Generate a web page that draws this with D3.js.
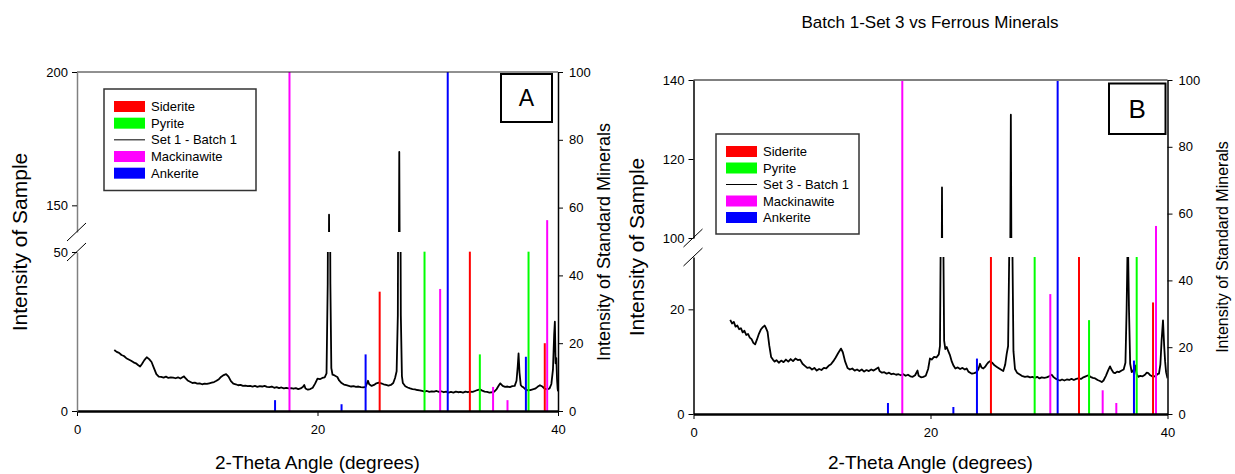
<!DOCTYPE html>
<html>
<head>
<meta charset="utf-8">
<script src="https://cdn.jsdelivr.net/npm/d3@7"></script>
<style>
  body { margin: 0; background: #fff; }
  text { font-family: "Liberation Sans", Arial, sans-serif; fill: #000; }
</style>
</head>
<body>
<div id="chart"></div>
<script>
// x axis (2-theta) ticks
var xTicks = [0, 20, 40];
var rightTicks = [0, 20, 40, 60, 80, 100];

// sample trace, panel A (Set 1 - Batch 1): [2-theta, intensity]
var sampleA = [
  [3.1,19.2],[3.3,18.6],[3.5,18.3],[3.7,17.6],[3.9,17.3],[4.1,16.6],[4.3,16.2],[4.5,15.8],[4.7,15.3],[4.9,15.0],
  [5.1,14.4],[5.25,14.0],[5.4,14.8],[5.6,16.0],[5.8,16.9],[6.0,16.3],[6.2,15.4],[6.4,13.5],[6.6,11.6],[6.8,10.8],
  [7.0,10.7],[7.2,10.5],[7.4,10.8],[7.6,10.4],[7.8,10.6],[8.0,10.5],[8.2,10.3],[8.4,10.6],[8.6,10.2],[8.8,10.7],
  [8.9,10.9],[9.0,10.4],[9.2,9.6],[9.4,9.2],[9.6,8.8],[9.8,8.9],[10.0,8.6],[10.2,8.7],[10.4,8.4],[10.6,8.6],
  [10.8,8.5],[11.0,8.7],[11.2,8.9],[11.4,9.1],[11.6,9.5],[11.8,10.0],[12.0,10.8],[12.2,11.3],[12.4,11.6],[12.6,10.8],
  [12.8,9.4],[13.0,8.6],[13.2,8.4],[13.4,8.1],[13.6,8.2],[13.8,7.9],[14.0,8.0],[14.2,7.8],[14.4,7.9],[14.6,7.7],
  [14.8,7.9],[15.0,7.6],[15.2,7.8],[15.4,7.7],[15.6,7.9],[15.8,7.6],[16.0,7.5],[16.2,7.7],[16.4,7.3],[16.6,7.5],
  [16.8,7.2],[17.0,7.4],[17.2,7.1],[17.4,7.3],[17.6,7.1],[17.8,7.2],[18.0,7.0],[18.2,7.2],[18.4,6.9],[18.6,7.1],
  [18.8,7.6],[18.9,8.2],[19.0,7.1],[19.2,6.7],[19.4,6.9],[19.6,7.3],[19.8,8.6],[20.0,10.2],[20.2,10.0],[20.4,10.4],
  [20.6,10.6],[20.75,11.8],[20.85,40],[20.96,146.5],[21.07,40],[21.15,13.5],[21.25,11.4],[21.36,11.3],[21.5,11.0],
  [21.65,10.7],[21.8,9.6],[22.0,8.8],[22.2,8.3],[22.4,8.1],[22.6,7.9],[22.8,7.7],[23.0,7.8],[23.2,7.6],[23.4,7.7],
  [23.6,7.5],[23.8,7.4],[24.0,7.6],[24.1,8.6],[24.2,9.5],[24.3,8.4],[24.5,7.9],[24.7,8.2],[24.9,8.7],[25.1,8.9],
  [25.3,8.7],[25.5,8.4],[25.7,8.2],[25.9,8.0],[26.1,8.2],[26.3,8.8],[26.45,10.4],[26.58,12.5],[26.68,30],[26.8,170],
  [26.93,30],[27.02,11],[27.1,8.8],[27.3,7.8],[27.5,7.4],[27.7,7.1],[27.9,6.9],[28.1,6.8],[28.3,6.6],[28.5,6.5],
  [28.7,6.3],[28.9,6.1],[29.1,6.3],[29.3,6.0],[29.5,6.2],[29.7,6.1],[29.9,6.3],[30.1,6.0],[30.3,6.2],[30.5,5.9],
  [30.7,6.1],[30.9,5.8],[31.1,6.0],[31.3,5.8],[31.5,6.1],[31.7,5.9],[31.9,6.0],[32.1,5.8],[32.3,6.1],[32.5,5.9],
  [32.7,6.1],[32.9,6.0],[33.1,6.3],[33.3,6.6],[33.5,6.8],[33.7,6.4],[33.9,6.1],[34.1,6.0],[34.3,5.8],[34.5,5.9],
  [34.7,6.1],[34.9,6.9],[35.1,8.2],[35.2,8.7],[35.4,7.9],[35.6,7.6],[35.8,7.7],[36.0,7.5],[36.2,7.8],[36.4,7.9],
  [36.55,9.5],[36.65,14],[36.72,18.1],[36.8,12],[36.9,8.2],[37.0,7.7],[37.1,7.5],[37.3,6.8],[37.5,6.5],[37.7,6.6],
  [37.9,6.8],[38.1,7.0],[38.3,7.6],[38.5,8.1],[38.7,7.7],[38.9,7.0],[39.1,6.8],[39.3,7.1],[39.45,8.5],[39.58,13],
  [39.68,24],[39.74,28.1],[39.8,15],[39.86,16.6],[39.92,10],[39.97,7.0],[40.0,6.2]
];

// sample trace, panel B (Set 3 - Batch 1)
var sampleB = [
  [3.1,18.0],[3.25,17.3],[3.4,17.6],[3.55,16.7],[3.7,16.9],[3.85,16.2],[4.0,16.4],[4.15,15.6],[4.3,15.9],[4.45,15.1],
  [4.6,15.3],[4.75,14.6],[4.9,14.3],[5.05,13.6],[5.2,13.3],[5.35,14.2],[5.5,15.2],[5.7,16.2],[5.85,16.6],[6.0,16.9],
  [6.1,16.5],[6.25,15.7],[6.4,13.0],[6.55,10.9],[6.7,10.4],[6.85,10.0],[7.0,10.3],[7.2,9.8],[7.4,10.2],[7.6,9.9],
  [7.8,10.4],[8.0,10.0],[8.2,10.5],[8.4,10.1],[8.6,10.6],[8.8,10.3],[9.0,10.4],[9.2,9.6],[9.4,9.2],[9.6,8.8],
  [9.8,8.9],[10.0,8.5],[10.2,8.8],[10.4,8.3],[10.6,8.6],[10.8,8.4],[11.0,8.8],[11.2,8.7],[11.4,9.2],[11.6,9.5],
  [11.8,10.1],[12.0,10.8],[12.2,11.6],[12.45,12.5],[12.6,11.8],[12.8,10.0],[13.0,8.8],[13.2,8.5],[13.4,8.7],[13.6,8.3],
  [13.8,8.5],[14.0,8.2],[14.2,8.5],[14.4,8.1],[14.6,8.4],[14.8,8.2],[15.0,8.5],[15.2,8.3],[15.4,8.6],[15.6,8.9],
  [15.7,8.2],[15.9,7.9],[16.1,8.0],[16.3,7.7],[16.5,7.9],[16.7,7.6],[16.9,7.7],[17.1,7.5],[17.3,7.6],[17.5,7.4],
  [17.7,7.6],[17.9,7.3],[18.1,7.5],[18.3,7.2],[18.5,7.1],[18.7,7.4],[18.9,8.3],[19.0,7.3],[19.2,7.0],[19.4,7.1],
  [19.6,7.3],[19.8,8.6],[19.95,10.6],[20.1,10.4],[20.3,10.9],[20.5,10.8],[20.7,11.4],[20.8,13],[20.88,40],[20.97,112.8],
  [21.06,40],[21.15,14],[21.25,12.4],[21.37,12.8],[21.5,12.0],[21.65,11.2],[21.8,10.0],[21.95,9.2],[22.1,8.7],[22.3,8.9],
  [22.5,8.6],[22.7,8.8],[22.9,8.5],[23.05,8.7],[23.2,8.1],[23.35,7.9],[23.5,7.7],[23.7,7.8],[23.9,8.0],[24.05,8.6],
  [24.18,9.6],[24.3,8.9],[24.46,8.7],[24.6,9.0],[24.75,9.5],[24.9,9.9],[25.02,10.1],[25.2,9.8],[25.4,9.3],[25.6,9.0],
  [25.8,8.7],[26.0,8.4],[26.14,8.2],[26.3,9.4],[26.43,11.5],[26.55,13],[26.64,30],[26.78,131.2],[26.92,30],[27.0,12],
  [27.13,8.6],[27.3,7.9],[27.5,7.6],[27.7,7.3],[27.97,7.1],[28.2,7.2],[28.4,7.0],[28.6,7.1],[28.8,6.9],[29.0,7.1],
  [29.2,6.8],[29.38,7.0],[29.6,6.9],[29.8,7.0],[30.0,7.2],[30.23,7.5],[30.4,7.0],[30.6,6.7],[30.8,6.5],[30.93,6.4],
  [31.1,6.6],[31.3,6.4],[31.5,6.6],[31.7,6.5],[31.9,6.7],[32.1,6.5],[32.3,6.7],[32.47,6.8],[32.7,6.7],[32.9,7.0],
  [33.1,7.2],[33.32,7.4],[33.5,7.1],[33.7,6.9],[33.9,6.8],[34.1,6.5],[34.3,6.3],[34.45,6.1],[34.6,6.4],[34.8,7.3],
  [35.0,8.4],[35.15,9.1],[35.3,8.4],[35.45,7.9],[35.57,7.8],[35.75,8.1],[35.9,8.0],[36.13,8.3],[36.3,8.5],[36.45,9.8],
  [36.55,20],[36.65,35],[36.75,20],[36.85,9.6],[36.98,8.0],[37.1,8.2],[37.26,9.3],[37.4,7.6],[37.54,7.1],[37.7,7.3],
  [37.9,7.2],[38.1,7.5],[38.25,7.9],[38.38,7.8],[38.55,7.4],[38.8,7.1],[39.0,7.3],[39.15,7.6],[39.28,7.7],[39.4,9.5],
  [39.5,14],[39.62,17.9],[39.72,13],[39.8,10],[39.88,8.0],[40.0,6.8]
];

// standard mineral sticks: [2-theta, intensity]
var sideriteA = [[25.17,35.2],[32.67,47],[38.9,20]];
var pyriteA = [[28.9,47],[33.5,16.7],[37.55,47]];
var mackinawiteA = [[17.67,100],[30.2,36],[34.6,7.1],[35.8,3.2],[39.1,56.3]];
var ankeriteA = [[16.47,3.2],[22.0,2.0],[24.0,16.7],[30.83,100],[37.33,16]];

var sideriteB = [[25.1,47],[32.53,47],[38.78,33.4]];
var pyriteB = [[28.79,47],[33.38,28.1],[37.4,47]];
var mackinawiteB = [[17.62,100],[30.11,35.9],[34.53,7.1],[35.68,3.3],[39.03,56.3]];
var ankeriteB = [[16.41,3.3],[21.93,2.1],[23.92,16.6],[30.73,100],[37.17,16]];

var colors = { Siderite: "#ff0000", Pyrite: "#00ff00", Mackinawite: "#ff00ff", Ankerite: "#0000ff" };

var svg = d3.select("#chart")
  .append("svg")
  .attr("width", 1235)
  .attr("height", 474);

function drawPanel(p) {
  var g = svg.append("g");

  var x = d3.scaleLinear().domain([0, 40]).range([p.left, p.right]);
  var yLo = d3.scaleLinear().domain(p.loDomain).range([p.bottom, p.loTop]);
  var yHi = d3.scaleLinear().domain(p.hiDomain).range([p.hiBottom, p.top]);
  var yR = d3.scaleLinear().domain([0, 100]).range([p.bottom, p.top]);

  // clip regions for the two parts of the broken axis
  g.append("clipPath").attr("id", "lo" + p.id)
    .append("rect").attr("x", p.left).attr("y", p.loTop)
    .attr("width", p.right - p.left).attr("height", p.bottom - p.loTop);
  g.append("clipPath").attr("id", "hi" + p.id)
    .append("rect").attr("x", p.left).attr("y", p.top)
    .attr("width", p.right - p.left).attr("height", p.hiBottom - p.top);

  // sample trace, drawn once per axis segment
  [[yLo, "lo"], [yHi, "hi"]].forEach(function (s) {
    var line = d3.line()
      .x(function (d) { return x(d[0]); })
      .y(function (d) { return s[0](d[1]); });
    g.append("path")
      .datum(p.sample)
      .attr("clip-path", "url(#" + s[1] + p.id + ")")
      .attr("fill", "none")
      .attr("stroke", "#000")
      .attr("stroke-width", 1.8)
      .attr("stroke-linejoin", "round")
      .attr("d", line);
  });

  // standard mineral sticks
  p.minerals.forEach(function (m) {
    g.selectAll(null)
      .data(m.data)
      .enter().append("line")
      .attr("x1", function (d) { return x(d[0]); })
      .attr("x2", function (d) { return x(d[0]); })
      .attr("y1", yR(0))
      .attr("y2", function (d) { return yR(d[1]); })
      .attr("stroke", colors[m.name])
      .attr("stroke-width", 2);
  });

  // top frame
  g.append("line")
    .attr("x1", p.left).attr("x2", p.right)
    .attr("y1", p.top).attr("y2", p.top)
    .attr("stroke", p.topColor).attr("stroke-width", p.topWidth);

  // bottom axis
  var xAxis = g.append("g")
    .attr("transform", "translate(0," + p.bottom + ")")
    .call(d3.axisBottom(x).tickValues(xTicks).tickSize(5).tickSizeOuter(0).tickPadding(9));
  xAxis.select(".domain").attr("stroke-width", 2.5);

  // left broken axis
  var loAxis = g.append("g")
    .attr("transform", "translate(" + p.left + ",0)")
    .call(d3.axisLeft(yLo).tickValues(p.loTicks).tickSize(5).tickSizeOuter(0).tickPadding(4));
  var hiAxis = g.append("g")
    .attr("transform", "translate(" + p.left + ",0)")
    .call(d3.axisLeft(yHi).tickValues(p.hiTicks).tickSize(5).tickSizeOuter(0).tickPadding(4));
  [loAxis, hiAxis].forEach(function (a) {
    a.select(".domain").attr("stroke", p.leftColor).attr("stroke-width", 1.5);
  });

  // break marks
  [p.hiBottom, p.loTop].forEach(function (yb) {
    g.append("line")
      .attr("x1", p.left - 10).attr("y1", yb + 9)
      .attr("x2", p.left + 9).attr("y2", yb - 9)
      .attr("stroke", "#000").attr("stroke-width", 1);
  });

  // right axis
  g.append("g")
    .attr("transform", "translate(" + p.right + ",0)")
    .call(d3.axisRight(yR).tickValues(rightTicks).tickSize(5).tickSizeOuter(0).tickPadding(6))
    .select(".domain").attr("stroke-width", 1.5);

  g.selectAll(".tick text").attr("font-size", 13).attr("font-family", "Liberation Sans, Arial, sans-serif");

  // axis titles
  g.append("text")
    .attr("x", (p.left + p.right) / 2).attr("y", 469)
    .attr("text-anchor", "middle").attr("font-size", 19)
    .text("2-Theta Angle (degrees)");
  g.append("text")
    .attr("transform", "translate(" + p.leftTitleX + "," + p.titleY + ") rotate(-90)")
    .attr("text-anchor", "middle").attr("dy", "0.35em").attr("font-size", 21)
    .text("Intensity of Sample");
  g.append("text")
    .attr("transform", "translate(" + p.rightTitleX + "," + p.titleY + ") rotate(-90)")
    .attr("text-anchor", "middle").attr("dy", "0.35em").attr("font-size", p.rightTitleSize)
    .text("Intensity of Standard Minerals");

  // legend
  var lg = g.append("g").attr("transform", "translate(" + p.legend[0] + "," + p.legend[1] + ")");
  lg.append("rect")
    .attr("width", p.legendW).attr("height", p.legendH)
    .attr("fill", "#fff").attr("stroke", "#333").attr("stroke-width", 1.5);
  var items = ["Siderite", "Pyrite", p.seriesName, "Mackinawite", "Ankerite"];
  items.forEach(function (name, i) {
    var cy = 17.5 + i * p.legendStep;
    if (colors[name]) {
      lg.append("rect")
        .attr("x", 10).attr("y", cy - 5.5)
        .attr("width", 31).attr("height", 11)
        .attr("fill", colors[name]);
    } else {
      lg.append("line")
        .attr("x1", 10).attr("x2", 41)
        .attr("y1", cy).attr("y2", cy)
        .attr("stroke", "#000").attr("stroke-width", 1);
    }
    lg.append("text")
      .attr("x", 47).attr("y", cy).attr("dy", "0.35em")
      .attr("font-size", 13)
      .text(name);
  });

  // panel letter
  g.append("rect")
    .attr("x", p.tag[0]).attr("y", p.tag[1])
    .attr("width", p.tag[2]).attr("height", p.tag[3])
    .attr("fill", "#fff").attr("stroke", "#000").attr("stroke-width", 2);
  g.append("text")
    .attr("x", p.tag[0] + p.tag[2] / 2).attr("y", p.tag[1] + p.tag[3] / 2)
    .attr("dy", "0.36em").attr("text-anchor", "middle")
    .attr("font-size", p.tagSize)
    .text(p.id);
}

drawPanel({
  id: "A", sample: sampleA, seriesName: "Set 1 - Batch 1",
  minerals: [
    { name: "Siderite", data: sideriteA }, { name: "Pyrite", data: pyriteA },
    { name: "Mackinawite", data: mackinawiteA }, { name: "Ankerite", data: ankeriteA }
  ],
  left: 77, right: 558, top: 72, bottom: 411,
  loDomain: [0, 50], loTop: 252, loTicks: [0, 50],
  hiDomain: [140, 200], hiBottom: 232, hiTicks: [150, 200],
  topColor: "#222", topWidth: 1, leftColor: "#808080",
  leftTitleX: 20, rightTitleX: 604, titleY: 242, rightTitleSize: 18,
  legend: [104, 89], legendW: 152, legendH: 101.5, legendStep: 16.67,
  tag: [501, 74, 51, 48], tagSize: 23
});

drawPanel({
  id: "B", sample: sampleB, seriesName: "Set 3 - Batch 1",
  minerals: [
    { name: "Siderite", data: sideriteB }, { name: "Pyrite", data: pyriteB },
    { name: "Mackinawite", data: mackinawiteB }, { name: "Ankerite", data: ankeriteB }
  ],
  left: 693.5, right: 1167.5, top: 80, bottom: 414,
  loDomain: [0, 30], loTop: 257, loTicks: [0, 20],
  hiDomain: [100, 140], hiBottom: 238, hiTicks: [100, 120, 140],
  topColor: "#808080", topWidth: 2, leftColor: "#000",
  leftTitleX: 637, rightTitleX: 1222, titleY: 247, rightTitleSize: 16,
  legend: [716, 134], legendW: 143, legendH: 100, legendStep: 16.5,
  tag: [1109, 83.5, 56.5, 50.5], tagSize: 26
});

// chart title above panel B
svg.append("text")
  .attr("x", 930).attr("y", 28)
  .attr("text-anchor", "middle").attr("font-size", 17)
  .text("Batch 1-Set 3 vs Ferrous Minerals");
</script>
</body>
</html>
